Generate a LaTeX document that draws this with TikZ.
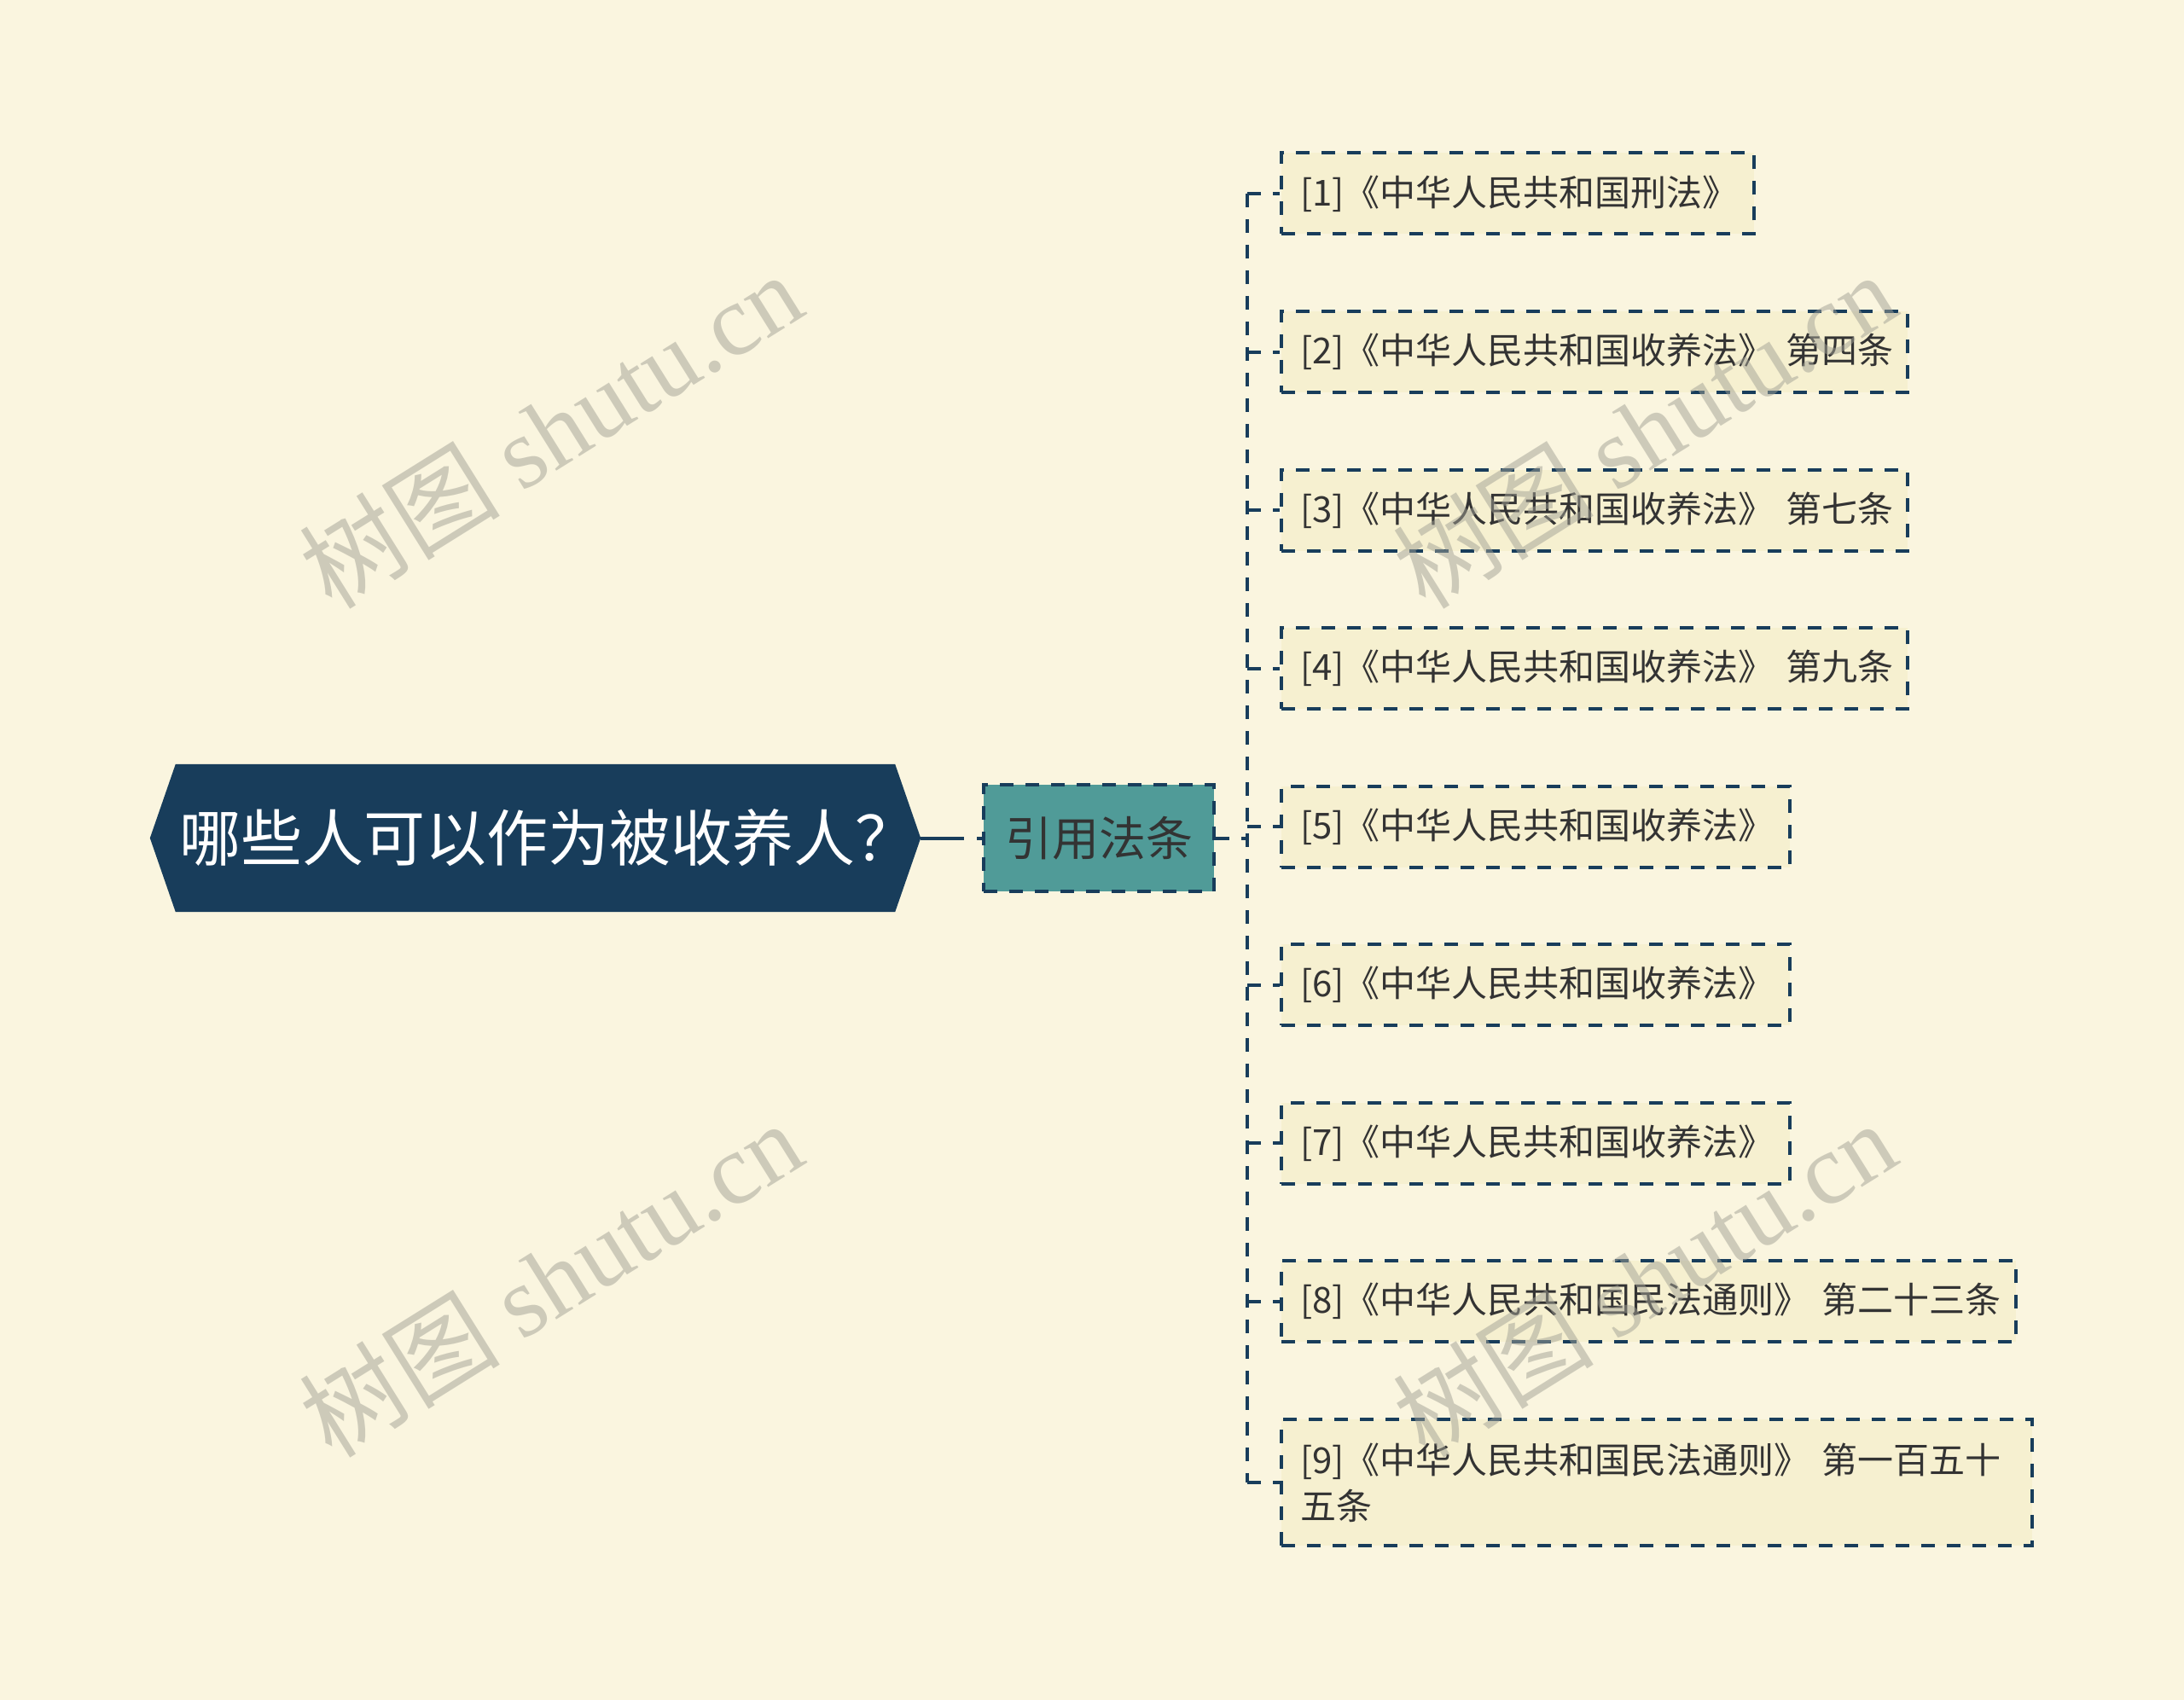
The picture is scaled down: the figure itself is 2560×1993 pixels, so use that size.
\documentclass[tikz,border=0pt]{standalone}
\usepackage{fontspec}
\setmainfont{Noto Sans CJK SC}
\newfontfamily\wmlatin{Liberation Serif}
\usetikzlibrary{backgrounds}
\definecolor{bgc}{RGB}{250,245,223}
\definecolor{navy}{RGB}{24,61,91}
\definecolor{midteal}{RGB}{80,155,152}
\definecolor{leaffill}{RGB}{246,240,208}
\definecolor{txt}{RGB}{51,51,51}
\definecolor{wmc}{RGB}{162,161,149}
\begin{document}
\begin{tikzpicture}[x=1pt,y=-1pt,
  dashline/.style={draw=navy, line width=4pt, dash pattern=on 16pt off 14pt},
  leaf/.style={dashline, fill=leaffill, text=txt, font=\fontsize{42}{54}\selectfont,
    inner xsep=22pt, inner ysep=0pt, minimum height=95pt, anchor=west, align=left},
  wm/.style={rotate=32, text=wmc, opacity=0.5, font=\fontsize{118}{118}\selectfont, inner sep=0pt}]
\useasboundingbox (0,0) rectangle (2560,1993);

\node[text=white, font=\fontsize{72}{80}\selectfont, minimum width=903pt, minimum height=173pt, inner sep=0pt] (root) at (627.5,982.5) {\hspace*{30pt}哪些人可以作为被收养人？};
\node[dashline, fill=midteal, text=txt, font=\fontsize{55}{60}\selectfont, minimum width=270pt, minimum height=125pt, inner sep=0pt] (mid) at (1288,982.5) {引用法条};

\node[leaf, text width=510pt] (l1) at (1500,227) {\mbox{[1]《中华人民共和国刑法》}};
\node[leaf, text width=690pt] (l2) at (1500,412.5) {\mbox{[2]《中华人民共和国收养法》 第四条}};
\node[leaf, text width=690pt] (l3) at (1500,598) {\mbox{[3]《中华人民共和国收养法》 第七条}};
\node[leaf, text width=690pt] (l4) at (1500,783.5) {\mbox{[4]《中华人民共和国收养法》 第九条}};
\node[leaf, text width=552pt] (l5) at (1500,969) {\mbox{[5]《中华人民共和国收养法》}};
\node[leaf, text width=552pt] (l6) at (1500,1154.5) {\mbox{[6]《中华人民共和国收养法》}};
\node[leaf, text width=552pt] (l7) at (1500,1340) {\mbox{[7]《中华人民共和国收养法》}};
\node[leaf, text width=817pt] (l8) at (1500,1525.5) {\mbox{[8]《中华人民共和国民法通则》 第二十三条}};
\node[leaf, text width=836pt, minimum height=148pt] (l9) at (1500,1738) {\mbox{[9]《中华人民共和国民法通则》 第一百五十}\\\mbox{五条}};

\begin{scope}[on background layer]
  \fill[bgc] (0,0) rectangle (2560,1993);
  \fill[navy] (root.west) -- ([xshift=30pt]root.north west) -- ([xshift=-30pt]root.north east) -- (root.east) -- ([xshift=-30pt]root.south east) -- ([xshift=30pt]root.south west) -- cycle;
\end{scope}

\draw[navy, line width=4pt, dash pattern=on 51pt off 15pt on 40pt] (root.east) -- (mid.west);
\coordinate (bx) at (1462,982.5);
\draw[dashline] (mid.east) -- (bx);
\draw[dashline] (bx |- l1.west) -- (bx |- l9.west);
\foreach \i in {1,...,9} {
  \draw[dashline] (bx |- l\i.west) -- (l\i.west);
}

\node[wm] (wm1) at (645,504) {树图 {\wmlatin shutu.cn}};
\node[wm] (wm2) at (1927,504) {树图 {\wmlatin shutu.cn}};
\node[wm] (wm3) at (645,1499) {树图 {\wmlatin shutu.cn}};
\node[wm] (wm4) at (1927,1499) {树图 {\wmlatin shutu.cn}};
\end{tikzpicture}
\end{document}
